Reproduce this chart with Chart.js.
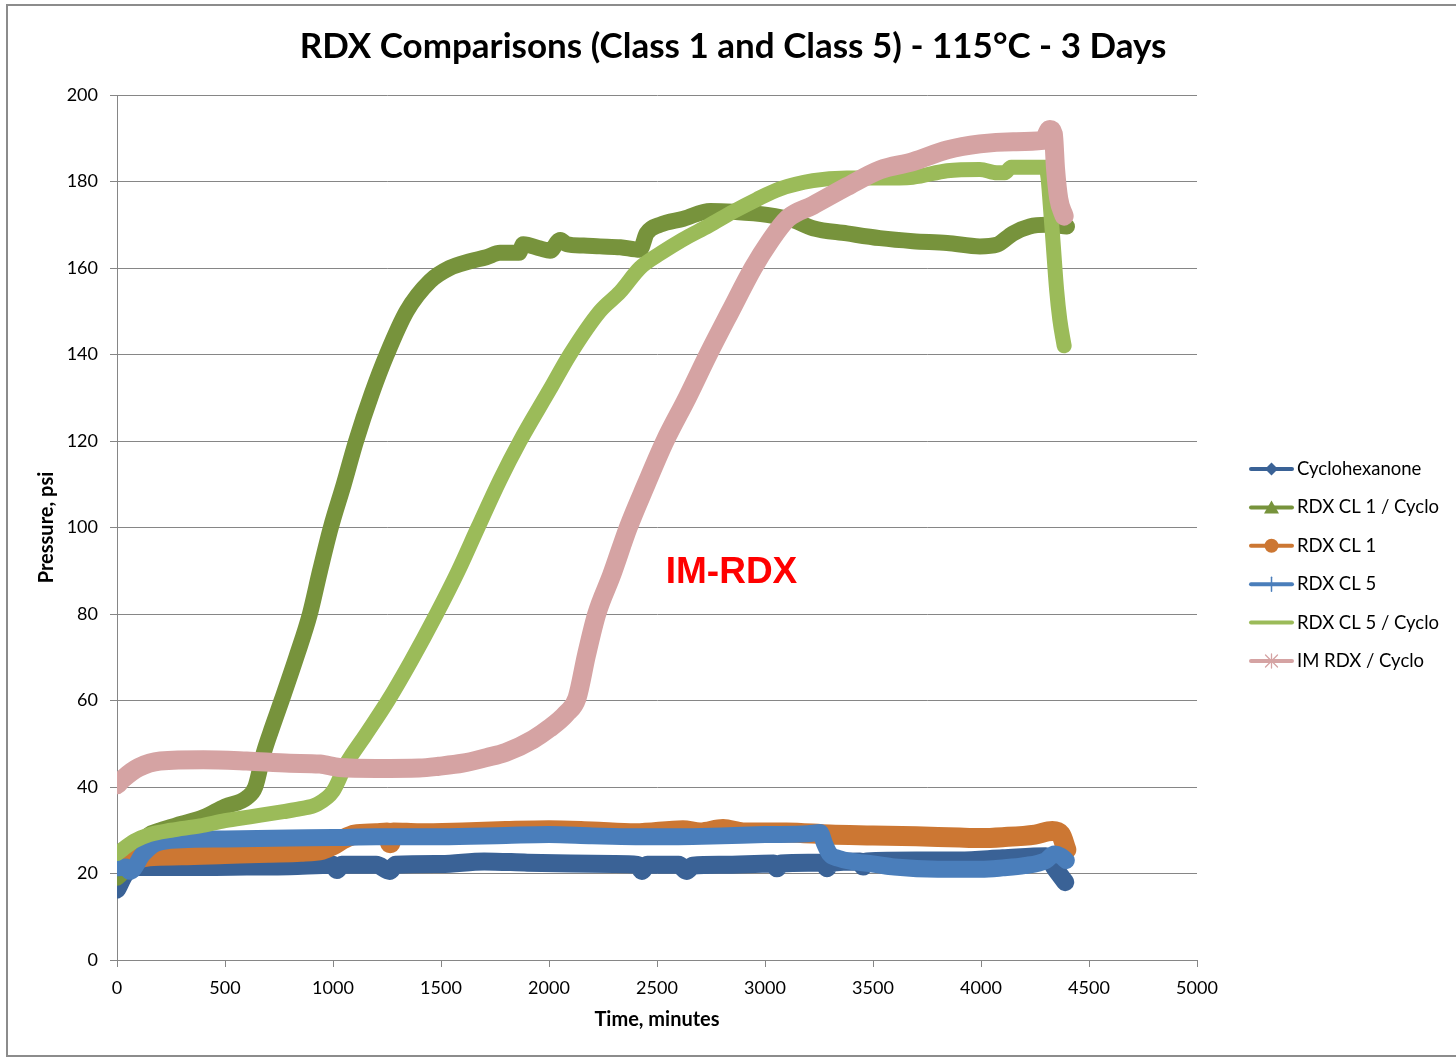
<!DOCTYPE html>
<html><head><meta charset="utf-8">
<script src="https://cdn.jsdelivr.net/npm/chart.js@4.4.1/dist/chart.umd.min.js"></script>
<style>
html,body{margin:0;padding:0;background:#fff;}
#wrap{position:relative;width:1456px;height:1058px;overflow:hidden;}
#c{position:absolute;left:0;top:0;}
#frame{position:absolute;left:6px;top:4px;width:1460px;height:1049px;border:2px solid #8c8c8c;pointer-events:none;}
</style></head><body>
<div id="wrap"><canvas id="c" width="1456" height="1058"></canvas><div id="frame"></div></div>
<script>
const chartTitle = 'RDX Comparisons (Class 1 and Class 5) - 115\u00B0C - 3 Days';
const xAxisTitle = 'Time, minutes';
const yAxisTitle = 'Pressure, psi';
const seriesNames = ['Cyclohexanone', 'RDX CL 1 / Cyclo', 'RDX CL 1', 'RDX CL 5', 'RDX CL 5 / Cyclo', 'IM RDX / Cyclo'];
const seriesColors = ['#3A6296', '#77933C', '#CC7733', '#4A7EBB', '#9BBB59', '#D5A3A3'];
const markerKinds = ['diamond', 'triangle', 'circle', 'plus', 'none', 'star'];
const lineWidths = [18, 16, 20, 17, 15, 19];
const xTicks = {min: 0, max: 5000, step: 500};
const yTicks = {min: 0, max: 200, step: 20};
const annotationText = 'IM-RDX';
const annotationAt = {x: 2845, y: 89.5};

// Cyclohexanone
const cycloT = [0, 40, 100, 200, 400, 600, 800, 1000, 1018, 1040, 1200, 1263, 1290, 1500, 1700, 1900, 2100, 2300, 2410, 2430, 2455, 2600, 2638, 2665, 2800, 3040, 3055, 3075, 3200, 3270, 3287, 3305, 3440, 3454, 3470, 3700, 3900, 4100, 4300, 4345, 4390];
const cycloP = [16.3, 20, 21.5, 21.5, 21.5, 21.6, 21.7, 22, 20.8, 22, 22, 20.6, 22, 22.2, 22.8, 22.5, 22.3, 22.2, 22, 20.6, 22, 22, 20.6, 21.8, 22, 22.3, 21.2, 22.3, 22.5, 22.5, 21.2, 22.5, 22.8, 21.6, 22.8, 23, 23, 23.5, 24, 21, 18];
// RDX CL 1 / Cyclo
const cl1CycloT = [0, 40, 100, 150, 200, 300, 400, 500, 600, 640, 680, 720, 762, 830, 893, 940, 990, 1050, 1107, 1180, 1249, 1341, 1450, 1540, 1630, 1710, 1773, 1860, 1881, 1960, 2005, 2052, 2083, 2160, 2236, 2330, 2421, 2452, 2514, 2623, 2747, 2855, 3009, 3133, 3222, 3379, 3532, 3685, 3843, 3995, 4074, 4148, 4225, 4302, 4398];
const cl1CycloP = [19, 21, 26, 29, 30, 31.5, 33, 35.5, 37.5, 40, 48, 54, 60, 70, 80, 90, 100, 110, 120, 131, 140, 150, 157, 160, 161.5, 162.5, 163.5, 163.5, 165.5, 164.5, 164, 166.5, 165.5, 165.2, 165, 164.8, 164.2, 168, 170, 171.4, 173.2, 173, 172.3, 171, 169.2, 168, 166.9, 166.2, 165.8, 165, 165.4, 168, 169.6, 170, 169.6];
// RDX CL 1
const cl1T = [0, 50, 150, 300, 500, 700, 850, 950, 1000, 1050, 1100, 1200, 1250, 1265, 1280, 1400, 1600, 1800, 2000, 2200, 2400, 2620, 2700, 2806, 2900, 3100, 3300, 3500, 3700, 3900, 4000, 4100, 4250, 4330, 4370, 4395];
const cl1P = [24, 23, 24, 24.2, 24.5, 24.8, 25, 25.5, 26.5, 28, 29, 29.3, 29.5, 27, 29.5, 29.3, 29.5, 29.8, 30, 29.7, 29.3, 30, 29.5, 30.3, 29.5, 29.5, 29, 28.8, 28.6, 28.3, 28.2, 28.4, 29, 29.8, 29, 25.5];
// RDX CL 5
const cl5T = [0, 40, 60, 120, 180, 300, 500, 800, 1000, 1200, 1500, 1800, 2000, 2200, 2400, 2600, 2800, 3000, 3200, 3255, 3275, 3300, 3340, 3400, 3500, 3600, 3800, 4000, 4100, 4200, 4300, 4340, 4370, 4395];
const cl5P = [21.3, 21.5, 20.5, 24.5, 27, 27.8, 28, 28.2, 28.3, 28.5, 28.5, 28.8, 29, 28.7, 28.5, 28.5, 28.7, 29, 29.2, 29.5, 27, 24.5, 23.5, 22.8, 22.2, 21.5, 21, 21, 21.3, 21.8, 23, 24.5, 24, 23];
// RDX CL 5 / Cyclo
const cl5CycloT = [0, 80, 150, 250, 384, 500, 616, 770, 850, 925, 1000, 1063, 1150, 1255, 1360, 1479, 1580, 1671, 1773, 1866, 2005, 2097, 2236, 2330, 2421, 2520, 2620, 2740, 2852, 2960, 3069, 3222, 3379, 3532, 3685, 3843, 3995, 4074, 4110, 4140, 4300, 4310, 4320, 4335, 4350, 4365, 4385];
const cl5CycloP = [24.6, 27.5, 29, 30, 31, 32.2, 33.1, 34.3, 35, 36, 39, 45.5, 52, 60, 69, 80, 90, 100, 111, 120, 132, 140, 150, 154.5, 160, 163.5, 166.6, 169.8, 173, 175.8, 178.3, 180.2, 180.8, 180.8, 181, 182.5, 182.8, 182, 182, 183.3, 183.3, 181, 175, 165, 155, 148, 142];
// IM RDX / Cyclo
const imT = [0, 30, 100, 200, 400, 600, 800, 940, 1030, 1200, 1400, 1490, 1600, 1710, 1800, 1926, 2000, 2080, 2130, 2174, 2221, 2290, 2367, 2450, 2537, 2640, 2737, 2840, 2945, 3020, 3106, 3222, 3379, 3532, 3685, 3843, 3995, 4148, 4287, 4319, 4335, 4345, 4360, 4385];
const imP = [40.5, 42, 44.5, 46, 46.3, 46, 45.5, 45.3, 44.5, 44.3, 44.4, 44.8, 45.5, 46.8, 48, 51, 53.5, 57, 60.6, 70.6, 80, 89, 100, 110, 120, 130, 140, 150, 160, 166, 171.5, 174.5, 178.8, 182.7, 184.6, 187.3, 188.7, 189.2, 189.5, 192, 191, 183, 176, 172];

const seriesT = [cycloT, cl1CycloT, cl1T, cl5T, cl5CycloT, imT];
const seriesP = [cycloP, cl1CycloP, cl1P, cl5P, cl5CycloP, imP];

const datasets = seriesNames.map((name, i) => ({
  label: name,
  data: seriesT[i].map((t, k) => ({x: t, y: seriesP[i][k]})),
  borderColor: seriesColors[i],
  backgroundColor: seriesColors[i],
  borderWidth: lineWidths[i],
  pointRadius: 0,
  cubicInterpolationMode: 'monotone',
  borderJoinStyle: 'round',
  borderCapStyle: 'round',
  fill: false,
  order: seriesNames.length - i
}));

function drawMarker(ctx, kind, x, y, col) {
  ctx.save();
  ctx.fillStyle = col; ctx.strokeStyle = col;
  if (kind === 'diamond') {
    ctx.beginPath(); ctx.moveTo(x, y - 6.5); ctx.lineTo(x + 6.5, y); ctx.lineTo(x, y + 6.5); ctx.lineTo(x - 6.5, y); ctx.closePath(); ctx.fill();
  } else if (kind === 'triangle') {
    ctx.beginPath(); ctx.moveTo(x, y - 7); ctx.lineTo(x + 7.5, y + 6); ctx.lineTo(x - 7.5, y + 6); ctx.closePath(); ctx.fill();
  } else if (kind === 'circle') {
    ctx.beginPath(); ctx.arc(x, y, 7, 0, Math.PI * 2); ctx.fill();
  } else if (kind === 'plus') {
    ctx.lineWidth = 1.5; ctx.beginPath(); ctx.moveTo(x, y - 7); ctx.lineTo(x, y + 7); ctx.stroke();
  } else if (kind === 'star') {
    ctx.lineWidth = 1.3; ctx.beginPath();
    ctx.moveTo(x, y - 7); ctx.lineTo(x, y + 7);
    ctx.moveTo(x - 6, y - 6); ctx.lineTo(x + 6, y + 6);
    ctx.moveTo(x + 6, y - 6); ctx.lineTo(x - 6, y + 6);
    ctx.stroke();
  }
  ctx.restore();
}

const sideLegend = {
  id: 'sideLegend',
  afterDraw(chart) {
    const ctx = chart.ctx, ca = chart.chartArea;
    const x0 = ca.right + 54, x1 = ca.right + 95, xm = (x0 + x1) / 2, tx = ca.right + 100;
    const y0 = ca.top + 374, dy = 38.4;
    ctx.save();
    ctx.font = '18.5px Lato';
    ctx.textBaseline = 'middle';
    ctx.textAlign = 'left';
    seriesNames.forEach((name, i) => {
      const y = y0 + i * dy;
      ctx.strokeStyle = seriesColors[i]; ctx.lineWidth = 4; ctx.lineCap = 'round';
      ctx.beginPath(); ctx.moveTo(x0, y); ctx.lineTo(x1, y); ctx.stroke();
      drawMarker(ctx, markerKinds[i], xm, y, seriesColors[i]);
      ctx.fillStyle = '#000';
      ctx.fillText(name, tx, y);
    });
    ctx.restore();
  }
};

const annotation = {
  id: 'annotation',
  afterDatasetsDraw(chart) {
    const ctx = chart.ctx;
    const x = chart.scales.x.getPixelForValue(annotationAt.x);
    const y = chart.scales.y.getPixelForValue(annotationAt.y);
    ctx.save();
    ctx.font = 'bold 37px "Liberation Sans"';
    ctx.fillStyle = '#FF0000';
    ctx.textAlign = 'center';
    ctx.textBaseline = 'middle';
    ctx.fillText(annotationText, x, y);
    ctx.restore();
  }
};

const axisGrey = '#868686';
const plainNumber = v => String(v);
new Chart(document.getElementById('c'), {
  type: 'line',
  data: {datasets},
  options: {
    responsive: false,
    animation: false,
    devicePixelRatio: 1,
    layout: {padding: {left: 10, right: 0, top: 0, bottom: 0}},
    plugins: {
      legend: {display: false},
      tooltip: {enabled: false},
      title: {
        display: true, text: chartTitle, color: '#000',
        font: {family: 'Lato', size: 35, weight: 'bold', lineHeight: 1.2},
        padding: {top: 26, bottom: 27}
      }
    },
    scales: {
      x: {
        type: 'linear', min: xTicks.min, max: xTicks.max,
        ticks: {stepSize: xTicks.step, color: '#000', font: {family: 'Lato', size: 18}, padding: 10, maxRotation: 0, autoSkip: false, callback: plainNumber},
        grid: {drawOnChartArea: false, drawTicks: true, tickLength: 7, color: axisGrey},
        border: {color: axisGrey, width: 1},
        title: {display: true, text: xAxisTitle, color: '#000', font: {family: 'Lato', size: 20, weight: 'bold', lineHeight: 1.2}, padding: {top: 0, bottom: 26}},
        afterFit(s) { s.height = 98; }
      },
      y: {
        type: 'linear', min: yTicks.min, max: yTicks.max,
        ticks: {stepSize: yTicks.step, color: '#000', font: {family: 'Lato', size: 18}, padding: 12, callback: plainNumber},
        grid: {drawTicks: true, tickLength: 7, color: axisGrey},
        border: {color: axisGrey, width: 1},
        title: {display: true, text: yAxisTitle, color: '#000', font: {family: 'Lato', size: 20, weight: 'bold', lineHeight: 1.2}, padding: {top: 25, bottom: 0}},
        afterFit(s) { s.width = 107; }
      },
      legendSpace: {
        type: 'linear', position: 'right', display: true, min: 0, max: 1,
        ticks: {display: false}, grid: {display: false}, border: {display: false},
        afterFit(s) { s.width = 259; }
      }
    }
  },
  plugins: [annotation, sideLegend]
});
</script>
</body></html>
